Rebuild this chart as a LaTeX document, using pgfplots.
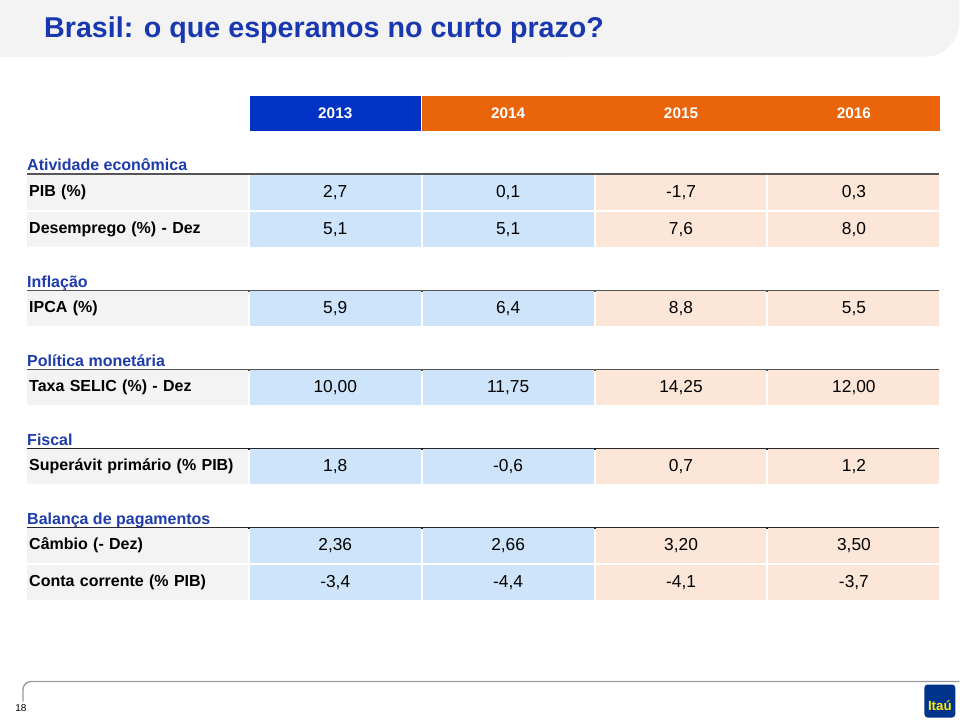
\documentclass[border=0pt]{standalone}
\usepackage{pgfplots}
\pgfplotsset{compat=1.18}
\usepackage{pgfplotstable}
\usepackage{fontspec}
\setmainfont{Liberation Sans}
\definecolor{titleblue}{RGB}{25,55,175}
\definecolor{secblue}{RGB}{30,60,170}
\definecolor{hdrblue}{RGB}{0,51,196}
\definecolor{hdrorange}{RGB}{234,100,10}
\definecolor{cellblue}{RGB}{206,228,250}
\definecolor{cellpeach}{RGB}{251,230,216}
\definecolor{cellgray}{RGB}{243,243,243}
\definecolor{bandgray}{RGB}{243,243,243}
\definecolor{itaublue}{RGB}{0,51,140}
\definecolor{itauyellow}{RGB}{255,236,0}
\definecolor{rulegray}{RGB}{85,85,85}

% years (header row)
\pgfplotstableread[col sep=semicolon]{
x;y;v
335.5;113.5;2013
}\hdrblue
\pgfplotstableread[col sep=semicolon]{
x;y;v
508.5;113.5;2014
681.5;113.5;2015
854.5;113.5;2016
}\hdrorange
% values 2013 and 2014 (blue cells)
\pgfplotstableread[col sep=semicolon]{
x;y;v
335.5;193;2,7
508.5;193;0,1
335.5;230;5,1
508.5;230;5,1
335.5;309;5,9
508.5;309;6,4
335.5;388;10,00
508.5;388;11,75
335.5;467;1,8
508.5;467;-0,6
335.5;546;2,36
508.5;546;2,66
335.5;583;-3,4
508.5;583;-4,4
}\valsblue
% values 2015 and 2016 (peach cells)
\pgfplotstableread[col sep=semicolon]{
x;y;v
681.5;193;-1,7
854.5;193;0,3
681.5;230;7,6
854.5;230;8,0
681.5;309;8,8
854.5;309;5,5
681.5;388;14,25
854.5;388;12,00
681.5;467;0,7
854.5;467;1,2
681.5;546;3,20
854.5;546;3,50
681.5;583;-4,1
854.5;583;-3,7
}\valspeach
% row labels
\pgfplotstableread[col sep=semicolon]{
x;y;v
27;193;PIB (\%)
27;230;Desemprego (\%) - Dez
27;309;IPCA (\%)
27;388;Taxa SELIC (\%) - Dez
27;467;Superávit primário (\% PIB)
27;546;Câmbio (- Dez)
27;583;Conta corrente (\% PIB)
}\rowlabels
% section headers
\pgfplotstableread[col sep=semicolon]{
x;y;v
27;171;Atividade econômica
27;288;Inflação
27;367;Política monetária
27;446;Fiscal
27;525;Balança de pagamentos
}\sections

\begin{document}
\begin{tikzpicture}
\begin{axis}[
  x=0.75pt, y=0.75pt, y dir=reverse,
  xmin=0, xmax=960, ymin=0, ymax=720,
  hide axis, clip=false,
  nodes near coords={\pgfplotspointmeta},
  point meta=explicit symbolic,
]
% page background and title band
\fill[white] (axis cs:0,0) rectangle (axis cs:960,720);
\fill[bandgray] (axis cs:0,0) -- (axis cs:960,0) -- (axis cs:960,22)
   arc[start angle=0, end angle=-90, radius=26pt] -- (axis cs:0,57) -- cycle;
\node[anchor=west, text=titleblue, font=\fontsize{21.5}{24}\selectfont\bfseries, inner sep=0pt]
  at (axis cs:44,30) {Brasil: o que esperamos no curto prazo?};

% header cells
\addplot[draw=none, mark=none, every node near coord/.append style={anchor=center,
  fill=hdrblue, text=white, minimum width=128.25pt, minimum height=26.25pt, inner sep=0pt,
  font=\fontsize{11.5}{13}\selectfont\bfseries}]
  table[x=x, y=y, meta=v] {\hdrblue};
\addplot[draw=none, mark=none, every node near coord/.append style={anchor=center,
  fill=hdrorange, text=white, minimum width=129.75pt, minimum height=26.25pt, inner sep=0pt,
  font=\fontsize{11.5}{13}\selectfont\bfseries}]
  table[x=x, y=y, meta=v] {\hdrorange};

% section rules
\draw[rulegray, line width=1.5pt] (axis cs:27,174) -- (axis cs:940,174);
\draw[rulegray, line width=1.5pt] (axis cs:27,291) -- (axis cs:940,291);
\draw[rulegray, line width=1.5pt] (axis cs:27,370) -- (axis cs:940,370);
\draw[black!85, line width=1.5pt] (axis cs:27,449) -- (axis cs:940,449);
\draw[black!85, line width=1.5pt] (axis cs:27,528) -- (axis cs:940,528);

% section headers
\addplot[draw=none, mark=none, every node near coord/.append style={anchor=base west,
  text=secblue, inner sep=0pt, font=\fontsize{12}{14}\selectfont\bfseries}]
  table[x=x, y=y, meta=v] {\sections};

% row labels
\addplot[draw=none, mark=none, every node near coord/.append style={anchor=west,
  fill=cellgray, text=black, text width=162.75pt, align=left, inner xsep=1.5pt, inner ysep=0pt,
  minimum height=26.25pt, font=\fontsize{12}{14}\selectfont\bfseries}]
  table[x=x, y=y, meta=v] {\rowlabels};

% value cells
\addplot[draw=none, mark=none, every node near coord/.append style={anchor=center,
  fill=cellblue, text=black, minimum width=128.25pt, minimum height=26.25pt, inner sep=0pt,
  font=\fontsize{13}{15}\selectfont}]
  table[x=x, y=y, meta=v] {\valsblue};
\addplot[draw=none, mark=none, every node near coord/.append style={anchor=center,
  fill=cellpeach, text=black, minimum width=128.25pt, minimum height=26.25pt, inner sep=0pt,
  font=\fontsize{13}{15}\selectfont}]
  table[x=x, y=y, meta=v] {\valspeach};

% footer
\draw[black!40, line width=1pt, rounded corners=6pt] (axis cs:23,702) -- (axis cs:23,682) -- (axis cs:960,682);
\node[font=\fontsize{7.5}{8}\selectfont, text=black, inner sep=0pt] at (axis cs:21,709) {18};
\fill[itaublue, rounded corners=2.5pt] (axis cs:925,685) rectangle (axis cs:956,718);
\node[font=\fontsize{10}{11}\selectfont\bfseries, text=itauyellow, inner sep=0pt] at (axis cs:940.5,706) {Itaú};
\end{axis}
\end{tikzpicture}
\end{document}
